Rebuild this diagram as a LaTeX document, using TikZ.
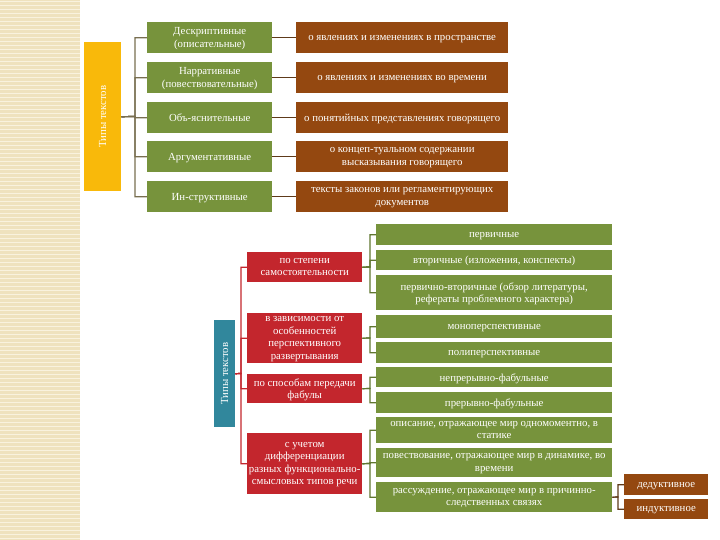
\documentclass[tikz,border=0pt]{standalone}
\usepackage{fontspec}
\setmainfont{Liberation Serif}
\definecolor{stripe}{RGB}{239,226,190}
\definecolor{stripelt}{RGB}{249,242,222}
\definecolor{olive}{RGB}{119,147,60}
\definecolor{rust}{RGB}{148,72,16}
\definecolor{amber}{RGB}{249,185,10}
\definecolor{crimson}{RGB}{195,38,45}
\definecolor{teal}{RGB}{49,135,156}
\definecolor{branch}{RGB}{120,110,80}
\definecolor{darklink}{RGB}{94,58,26}
\begin{document}
\begin{tikzpicture}[x=1pt,y=-1pt,
	box/.style={anchor=north west, inner sep=0pt, text depth=0pt, align=center, text=white, font=\fontsize{10.8}{12.5}\selectfont},
	gbox/.style={box, fill=olive},
	bbox/.style={box, fill=rust},
	rbox/.style={box, fill=crimson},
	tline/.style={branch, line width=1.2pt},
	rline/.style={crimson, line width=1.2pt},
	gline/.style={olive!80!black, line width=1.2pt},
	dline/.style={darklink, line width=1.2pt}]
			\useasboundingbox (0,0) rectangle (720,540);
			\fill[stripe] (0,0) rectangle (80,540);
			\foreach \y in {2,6,...,538}
				\draw[stripelt, line width=1pt] (0,\y) -- (80,\y);

			\node[box, fill=amber, minimum width=37pt, minimum height=149pt] (typ) at (84,42) {};
			\node[rotate=90, text=white, font=\fontsize{10.8}{12.5}\selectfont] at (typ.center) {Типы текстов};

			\node[gbox, minimum width=125pt, minimum height=31pt] (d1) at (147,22) {Дескриптивные\\(описательные)};
			\node[gbox, minimum width=125pt, minimum height=31pt] (d2) at (147,62) {Нарративные\\(повествовательные)};
			\node[gbox, minimum width=125pt, minimum height=31pt] (d3) at (147,102) {Объ-яснительные};
			\node[gbox, minimum width=125pt, minimum height=31pt] (d4) at (147,141) {Аргументативные};
			\node[gbox, minimum width=125pt, minimum height=31pt] (d5) at (147,181) {Ин-структивные};

			\node[bbox, minimum width=212pt, minimum height=31pt] (o1) at (296,22) {о явлениях и изменениях в пространстве};
			\node[bbox, minimum width=212pt, minimum height=31pt] (o2) at (296,62) {о явлениях и изменениях во времени};
			\node[bbox, minimum width=212pt, minimum height=31pt] (o3) at (296,102) {о понятийных представлениях говорящего};
			\node[bbox, minimum width=212pt, minimum height=31pt] (o4) at (296,141) {о концеп-туальном содержании\\высказывания говорящего};
			\node[bbox, minimum width=212pt, minimum height=31pt] (o5) at (296,181) {тексты законов или регламентирующих\\документов};

			\coordinate (tb) at (135,116.5);
			\foreach \n in {1,...,5} {
				\draw[tline] (typ.east) -- (tb) |- (d\n.west);
				\draw[dline] (d\n.east) -- (o\n.west);
			}

			\node[box, fill=teal, minimum width=21pt, minimum height=107pt] (typ2) at (214,320) {};
			\node[rotate=90, text=white, font=\fontsize{10.8}{12.5}\selectfont] at (typ2.center) {Типы текстов};

			\node[rbox, minimum width=115pt, minimum height=30pt] (r1) at (247,252) {по степени\\самостоятельности};
			\node[rbox, minimum width=115pt, minimum height=50pt] (r2) at (247,313) {в зависимости от\\особенностей\\перспективного\\развертывания};
			\node[rbox, minimum width=115pt, minimum height=29pt] (r3) at (247,374) {по способам передачи\\фабулы};
			\node[rbox, minimum width=115pt, minimum height=61pt] (r4) at (247,433) {с учетом\\дифференциации\\разных функционально-\\смысловых типов речи};

			\coordinate (rb) at (241,373.5);
			\foreach \n in {1,...,4}
				\draw[rline] (typ2.east) -- (rb) |- (r\n.west);

			\node[gbox, minimum width=236pt, minimum height=21pt] (g1) at (376,224) {первичные};
			\node[gbox, minimum width=236pt, minimum height=20pt] (g2) at (376,250) {вторичные (изложения, конспекты)};
			\node[gbox, minimum width=236pt, minimum height=35pt] (g3) at (376,275) {первично-вторичные (обзор литературы,\\рефераты проблемного характера)};
			\node[gbox, minimum width=236pt, minimum height=23pt] (g4) at (376,315) {моноперспективные};
			\node[gbox, minimum width=236pt, minimum height=21pt] (g5) at (376,342) {полиперспективные};
			\node[gbox, minimum width=236pt, minimum height=20pt] (g6) at (376,367) {непрерывно-фабульные};
			\node[gbox, minimum width=236pt, minimum height=21pt] (g7) at (376,392) {прерывно-фабульные};
			\node[gbox, minimum width=236pt, minimum height=26pt] (g8) at (376,417) {описание, отражающее мир одномоментно, в\\статике};
			\node[gbox, minimum width=236pt, minimum height=29pt] (g9) at (376,448) {повествование, отражающее мир в динамике, во\\времени};
			\node[gbox, minimum width=236pt, minimum height=30pt] (g10) at (376,482) {рассуждение, отражающее мир в причинно-\\следственных связях};

			\coordinate (k1) at (370,267);
			\coordinate (k2) at (370,338);
			\coordinate (k3) at (370,388.5);
			\coordinate (k4) at (370,463.5);
			\foreach \n in {1,2,3}
				\draw[gline] (r1.east) -- (k1) |- (g\n.west);
			\foreach \n in {4,5}
				\draw[gline] (r2.east) -- (k2) |- (g\n.west);
			\foreach \n in {6,7}
				\draw[gline] (r3.east) -- (k3) |- (g\n.west);
			\foreach \n in {8,9,10}
				\draw[gline] (r4.east) -- (k4) |- (g\n.west);

			\node[bbox, minimum width=84pt, minimum height=21pt] (b1) at (624,474) {дедуктивное};
			\node[bbox, minimum width=84pt, minimum height=20pt] (b2) at (624,499) {индуктивное};
			\coordinate (kb) at (618,497);
			\foreach \n in {1,2}
				\draw[dline] (g10.east) -- (kb) |- (b\n.west);
\end{tikzpicture}
\end{document}
